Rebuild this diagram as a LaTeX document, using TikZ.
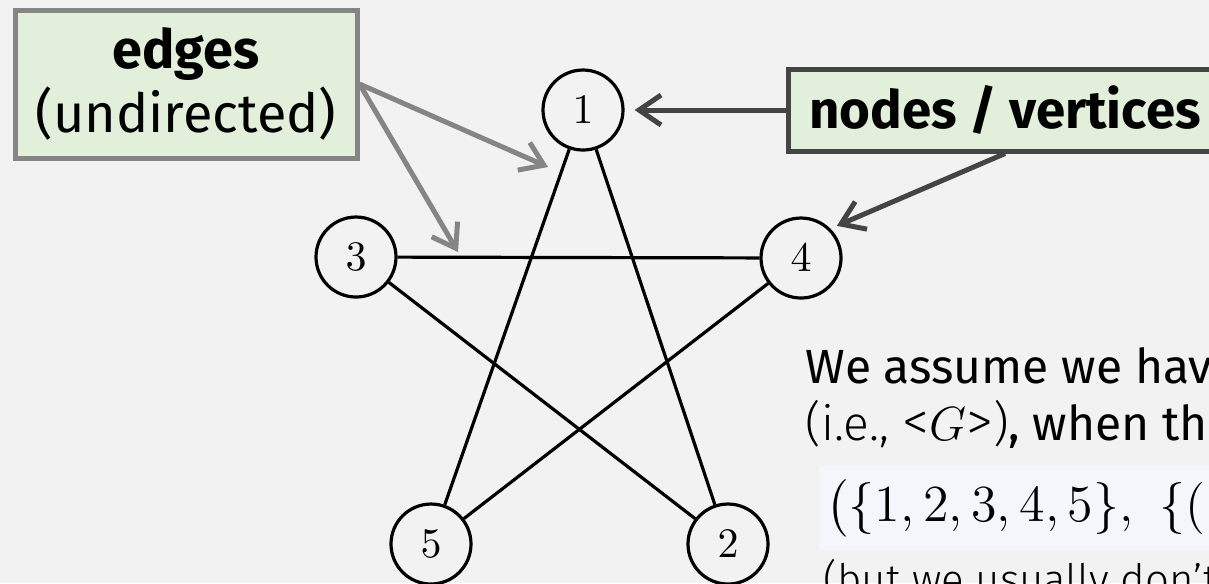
\RequirePackage{fix-cm}
\documentclass[tikz,border=0pt]{standalone}
\usepackage{amsmath}
\usepackage[no-math]{fontspec}
\setmainfont{Fira Sans}
\newfontfamily\lightfont{Fira Sans Light}[Ligatures=TeX]
\usetikzlibrary{arrows.meta}
\definecolor{bggray}{HTML}{F2F2F2}
\definecolor{notegreen}{HTML}{E2EFDA}
\definecolor{mathbg}{HTML}{F5F6FC}
\definecolor{lightarrow}{HTML}{858585}
\definecolor{darkarrow}{HTML}{444444}
\newcommand{\angled}[1]{{\fontsize{13.5}{14}\selectfont<}#1{\fontsize{13.5}{14}\selectfont>}}
\newcommand{\tupleopen}{\mathopen{\hbox{$\nulldelimiterspace=0pt\left(\vcenter to 15pt{}\right.$}}}
\tikzset{
    notebox/.style={draw,fill=notegreen,line width=1.25pt,inner sep=0pt,align=center},
    textline/.style={anchor=base west,inner sep=0pt,font=\fontsize{12}{14}\selectfont}
}
\begin{document}
\begin{tikzpicture}[x=0.25pt,y=-0.25pt]
            \useasboundingbox[fill=bggray] (0,0) rectangle (1209,583);

            \begin{scope}[every node/.style={circle,thick,draw,minimum size=20pt,inner sep=0pt,font=\fontsize{10.5}{12}\selectfont}]
                \node (n1) at (583,110) {$1$};
                \node (n2) at (728,544) {$2$};
                \node (n3) at (356,257) {$3$};
                \node (n4) at (801,258) {$4$};
                \node (n5) at (431,544) {$5$};
            \end{scope}

            \begin{scope}[thick]
                \path (n1) edge (n5);
                \path (n1) edge (n2);
                \path (n3) edge (n4);
                \path (n3) edge (n2);
                \path (n4) edge (n5);
            \end{scope}

            % labels
            \node[notebox,draw=lightarrow,minimum width=85.5pt,minimum height=37pt,font=\fontsize{13.5}{16}\selectfont] (edgesbox) at (186,84) {\textbf{edges}\\(undirected)};
            \node[notebox,draw=darkarrow,minimum width=108.5pt,minimum height=20.5pt,font=\bfseries\fontsize{13.2}{16}\selectfont] (nodesbox) at (1005,110) {nodes / vertices};
            \coordinate (edgeptA) at (548,167);
            \coordinate (edgeptB) at (458,252);

            \begin{scope}[line width=1.25pt,-{Straight Barb[length=5.5pt,width=7.5pt]}]
                \draw[lightarrow] (edgesbox.east) -- (edgeptA);
                \draw[lightarrow] (edgesbox.east) -- (edgeptB);
                \draw[darkarrow,shorten >=2.5pt] (nodesbox.west) -- (n1);
                \draw[darkarrow,shorten >=1.75pt] (nodesbox.south) -- (n4.north east);
            \end{scope}

            % encoding text
            \node[textline] (assume) at (805,383) {We assume we have};
            \node[textline] (encoding) at (805,440) {{\lightfont(i.e., \angled{$G$})}, when the};
            \node[fill=mathbg,anchor=west,text width=110pt,inner xsep=2pt,inner ysep=0pt,minimum height=21pt,font=\fontsize{13}{16}\selectfont] (tuple) at (818,508) {$\tupleopen\{1,2,3,4,5\},\ \{($};
            \node[textline,font=\lightfont\fontsize{10.5}{12}\selectfont] (usually) at (823,594) {(but we usually don’t};
\end{tikzpicture}
\end{document}
